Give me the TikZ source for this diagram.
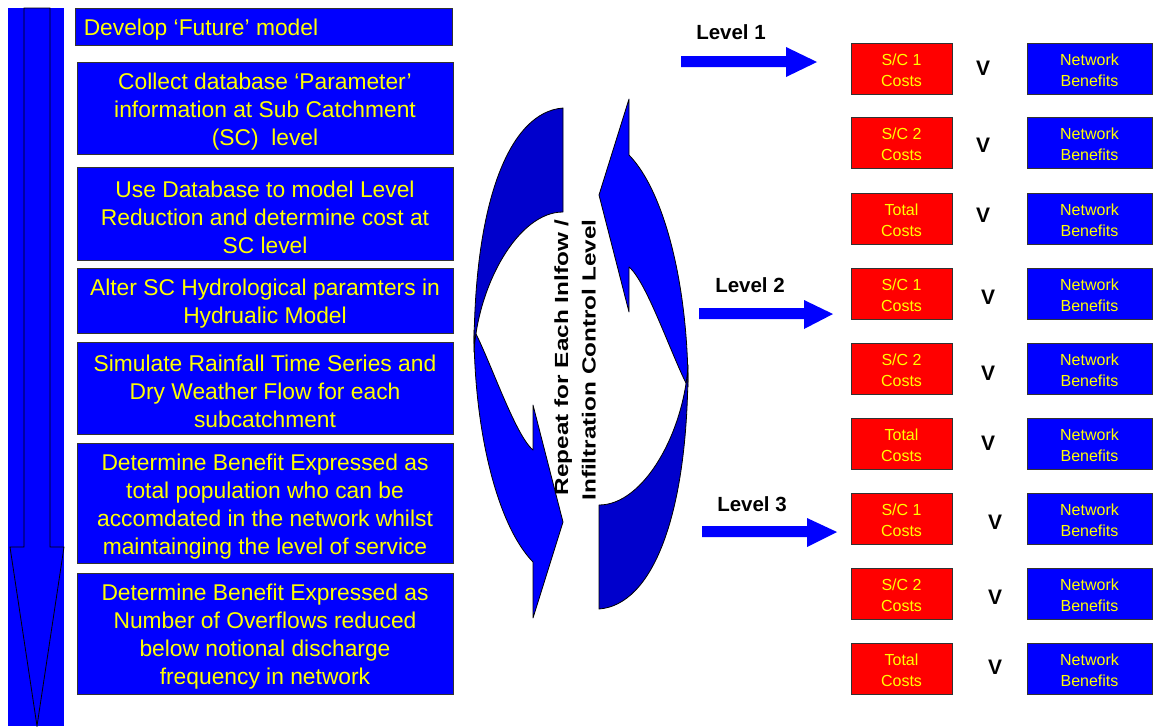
\documentclass[tikz,border=0pt]{standalone}
\usepackage{fontspec}
\setmainfont{Liberation Sans}
\definecolor{pblue}{RGB}{0,0,255}
\definecolor{dblue}{RGB}{0,0,204}
\definecolor{pred}{RGB}{255,0,0}
\definecolor{pyellow}{RGB}{255,255,0}
\definecolor{edgegray}{RGB}{50,50,50}
\newcommand{\mkcell}[5]{%
  \node[#4] (#1) at (#2,#3) {};
  \node[celltext] (#1t) at ([yshift=-1.5pt]#1.center) {#5};}
\newcommand{\mkstep}[5]{%
  \node[stepbox, minimum height=#4] (#1) at (#2,#3) {};
  \node[steptext] (#1t) at ([yshift=-3.5pt]#1.center) {#5};}
\begin{document}
\begin{tikzpicture}[x=1pt,y=-1pt,
  stepbox/.style={draw=edgegray, line width=0.9pt, fill=pblue, inner sep=0pt, minimum width=376pt},
  steptext/.style={text=pyellow, inner sep=0pt, align=center, font=\fontsize{22.8}{28}\selectfont},
  costbox/.style={draw=edgegray, line width=0.9pt, fill=pred, inner sep=0pt, minimum width=101pt, minimum height=51pt},
  benbox/.style={costbox, fill=pblue, minimum width=125pt},
  celltext/.style={text=pyellow, inner sep=0pt, align=center, font=\fontsize{16}{21}\selectfont},
  vsmark/.style={font=\fontsize{21}{24}\selectfont\bfseries},
  lvl/.style={font=\fontsize{20.5}{24}\selectfont\bfseries},
  blockarrow/.style={fill=pblue},
  ribbon/.style={draw=black, line width=0.8pt, line join=round}
]
\useasboundingbox (0,0) rectangle (1153,726);

% big downward arrow on the left
\fill[pblue] (8,8) rectangle (64,726);
\draw[fill=pblue, line width=0.8pt] (24,8) -- (24,547) -- (10,547) -- (37,726) -- (64,547) -- (50,547) -- (50,8) -- cycle;

% step boxes
\node[stepbox, minimum width=377pt, minimum height=37pt] (s1) at (263.5,26.5) {};
\node[steptext, anchor=west] (s1t) at ([xshift=9pt,yshift=-3pt]s1.west) {Develop ‘Future’ model};
\mkstep{s2}{265}{108}{92pt}{Collect database ‘Parameter’\\information at Sub Catchment\\(SC)\ \ level}
\mkstep{s3}{265}{213.5}{93pt}{Use Database to model Level\\Reduction and determine cost at\\SC level}
\mkstep{s4}{265}{300.5}{65pt}{Alter SC Hydrological paramters in\\Hydrualic Model}
\mkstep{s5}{265}{388}{92pt}{Simulate Rainfall Time Series and\\Dry Weather Flow for each\\subcatchment}
\mkstep{s6}{265}{503}{120pt}{Determine Benefit Expressed as\\total population who can be\\accomdated in the network whilst\\maintainging the level of service}
\mkstep{s7}{265}{633.5}{121pt}{Determine Benefit Expressed as\\Number of Overflows reduced\\below notional discharge\\frequency in network}

% circular arrows
\def\ribbonpair{%
  \path[ribbon, fill=pblue] (474,330) .. controls (474,430) and (497,525) .. (533,562)
     -- (533,618) -- (563,522) -- (533,405) -- (533,450)
     .. controls (515,435) and (490,360) .. (474,330) -- cycle;
  \path[ribbon, fill=dblue] (563,108) .. controls (510,112) and (474,200) .. (474,352)
     .. controls (478,285) and (518,212) .. (563,212) -- cycle;
}
\ribbonpair
\begin{scope}[rotate around={180:(581,358.5)}]
\ribbonpair
\end{scope}
\node[rotate=90, xscale=1.28, align=right, inner sep=0pt, font=\fontsize{19}{27.5}\selectfont\bfseries] (rep) at (575,360) {Repeat for Each Inlfow /\\Infiltration Control Level};

% level labels and arrows
\node[lvl] (l1) at (731,32) {Level 1};
\node[lvl] (l2) at (750,285) {Level 2};
\node[lvl] (l3) at (752,504) {Level 3};
\fill[blockarrow] (681,56) -- (786,56) -- (786,47) -- (817,62) -- (786,77) -- (786,67) -- (681,67) -- cycle;
\fill[blockarrow] (699,308) -- (804,308) -- (804,300) -- (833,314) -- (804,329) -- (804,319) -- (699,319) -- cycle;
\fill[blockarrow] (702,526) -- (807,526) -- (807,518) -- (837,532) -- (807,547) -- (807,537) -- (702,537) -- cycle;

% Level 1
\mkcell{c11}{901.5}{68.5}{costbox}{S/C 1\\Costs}
\mkcell{c12}{901.5}{143}{costbox}{S/C 2\\Costs}
\mkcell{c13}{901.5}{218.5}{costbox}{Total\\Costs}
\mkcell{b11}{1089.5}{68.5}{benbox}{Network\\Benefits}
\mkcell{b12}{1089.5}{143}{benbox}{Network\\Benefits}
\mkcell{b13}{1089.5}{218.5}{benbox}{Network\\Benefits}
\node[vsmark] (v11) at (983,68) {V};
\node[vsmark] (v12) at (983,145) {V};
\node[vsmark] (v13) at (983,215) {V};
% Level 2
\mkcell{c21}{901.5}{293.5}{costbox}{S/C 1\\Costs}
\mkcell{c22}{901.5}{369}{costbox}{S/C 2\\Costs}
\mkcell{c23}{901.5}{443.5}{costbox}{Total\\Costs}
\mkcell{b21}{1089.5}{293.5}{benbox}{Network\\Benefits}
\mkcell{b22}{1089.5}{369}{benbox}{Network\\Benefits}
\mkcell{b23}{1089.5}{443.5}{benbox}{Network\\Benefits}
\node[vsmark] (v21) at (988,297) {V};
\node[vsmark] (v22) at (988,373) {V};
\node[vsmark] (v23) at (988,443) {V};
% Level 3
\mkcell{c31}{901.5}{518.5}{costbox}{S/C 1\\Costs}
\mkcell{c32}{901.5}{593.5}{costbox}{S/C 2\\Costs}
\mkcell{c33}{901.5}{668.5}{costbox}{Total\\Costs}
\mkcell{b31}{1089.5}{518.5}{benbox}{Network\\Benefits}
\mkcell{b32}{1089.5}{593.5}{benbox}{Network\\Benefits}
\mkcell{b33}{1089.5}{668.5}{benbox}{Network\\Benefits}
\node[vsmark] (v31) at (995,522) {V};
\node[vsmark] (v32) at (995,597) {V};
\node[vsmark] (v33) at (995,667) {V};
\end{tikzpicture}
\end{document}
